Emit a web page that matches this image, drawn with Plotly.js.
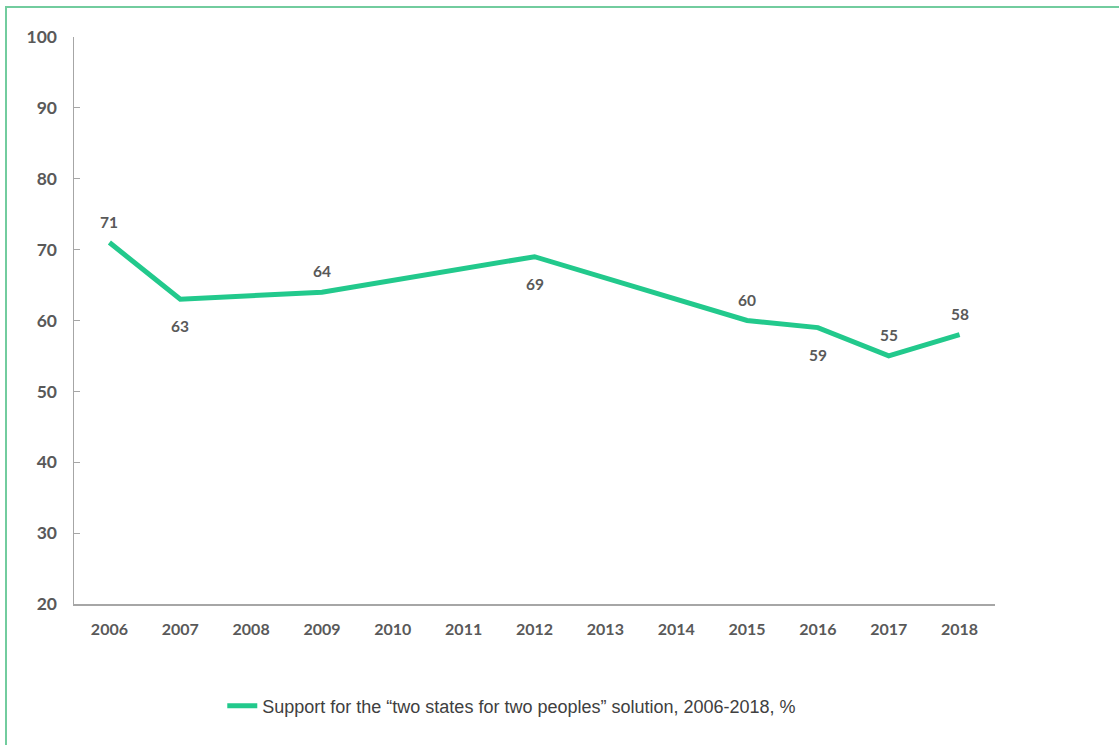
<!DOCTYPE html>
<html>
<head>
<meta charset="utf-8">
<script src="https://cdn.plot.ly/plotly-3.0.1.min.js"></script>
<style>
  html, body { margin: 0; padding: 0; background: #fff; }
  #wrap { position: relative; width: 1119px; height: 745px; overflow: hidden; }
  #frame { position: absolute; left: 5px; top: 6px; width: 1200px; height: 800px;
           border-left: 2px solid #72cc9e; border-top: 2px solid #72cc9e; pointer-events: none; }
  #chart { position: absolute; left: 0; top: 0; width: 1119px; height: 745px; }
</style>
</head>
<body>
<div id="wrap">
  <div id="chart"></div>
  <div id="frame"></div>
</div>
<script>
// Years on the category axis
const years = ['2006','2007','2008','2009','2010','2011','2012','2013','2014','2015','2016','2017','2018'];
// Support (%) — null where no survey value
const support = [71, 63, null, 64, null, null, 69, null, null, 60, 59, 55, 58];
// Label placement for each value: 'above' or 'below' the line
const labelSide = ['above','below',null,'above',null,null,'below',null,null,'above','below','above','above'];
const seriesName = 'Support for the \u201ctwo states for two peoples\u201d solution, 2006-2018, %';
const yTicks = [20, 30, 40, 50, 60, 70, 80, 90, 100];

const labelFont = { family: 'Lato, sans-serif', size: 15.5, color: '#595959', weight: 'bold' };

const trace = {
  x: years,
  y: support,
  type: 'scatter',
  mode: 'lines',
  connectgaps: true,
  name: seriesName,
  line: { color: '#22c98c', width: 5 },
  hoverinfo: 'x+y'
};

const annotations = [];
support.forEach((v, i) => {
  if (v === null) return;
  annotations.push({
    x: i, y: v, xref: 'x', yref: 'y',   // category index of years[i]
    text: String(v), showarrow: false,
    xanchor: 'center', yanchor: 'middle',
    yshift: labelSide[i] === 'below' ? -27 : 21,
    font: labelFont
  });
});

const layout = {
  width: 1119,
  height: 745,
  margin: { l: 74, r: 124, t: 37, b: 141 },
  paper_bgcolor: '#ffffff',
  plot_bgcolor: '#ffffff',
  showlegend: true,
  annotations: annotations,
  legend: {
    orientation: 'h',
    x: 0.161, xanchor: 'left',
    y: -0.18, yanchor: 'middle',
    font: { family: '"Liberation Sans", Arial, sans-serif', size: 18, color: '#404040' },
    itemwidth: 30
  },
  xaxis: {
    type: 'category',
    categoryorder: 'array',
    categoryarray: years,
    range: [-0.5, 12.5],
    showgrid: false,
    zeroline: false,
    showline: true,
    linecolor: '#a6a6a6',
    linewidth: 1.5,
    ticks: '',
    ticklabelstandoff: 10,
    tickfont: { family: 'Lato, sans-serif', size: 16, color: '#595959', weight: 'bold' },
    fixedrange: true
  },
  yaxis: {
    range: [20, 100],
    tickvals: yTicks,
    showgrid: false,
    zeroline: false,
    showline: true,
    linecolor: '#a6a6a6',
    linewidth: 1.5,
    ticks: 'inside',
    ticklen: 6,
    tickcolor: '#a6a6a6',
    tickwidth: 1,
    ticklabelstandoff: 12,
    tickfont: { family: 'Lato, sans-serif', size: 17.5, color: '#595959', weight: 'bold' },
    fixedrange: true
  }
};

Plotly.newPlot('chart', [trace], layout, { displayModeBar: false, staticPlot: true });
</script>
</body>
</html>
